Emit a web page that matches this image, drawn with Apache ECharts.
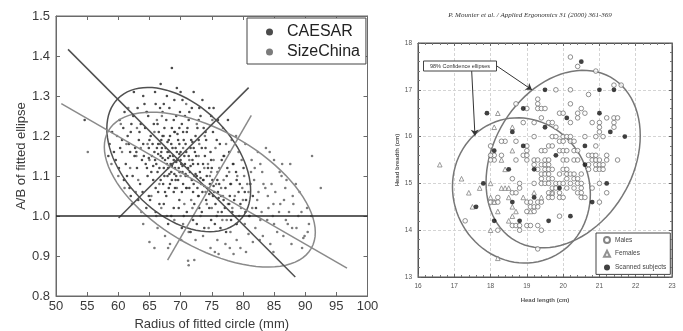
<!DOCTYPE html>
<html>
<head>
<meta charset="utf-8">
<script src="https://cdn.jsdelivr.net/npm/echarts@6/dist/echarts.min.js"></script>
<style>
  html, body { margin: 0; padding: 0; background: #fff; }
  #chart { width: 683px; height: 331px; }
</style>
</head>
<body>
<div id="chart"></div>
<script>
// ---- left panel: ellipse fit ratio vs circle radius ----
const caesarPoints = [
  [68.6,1.37],[54.6,1.24],
  [62.5,1.31],[65.9,1.31],[69.4,1.32],[72.1,1.31],[67.8,1.30],[64.2,1.28],[70.3,1.29],[73.5,1.29],
  [61.0,1.26],[63.1,1.27],[66.0,1.28],[68.2,1.27],[69.9,1.26],[71.8,1.27],[74.6,1.27],[75.3,1.27],
  [60.2,1.24],[62.4,1.25],[64.8,1.25],[67.1,1.26],[70.7,1.25],[72.9,1.24],[76.0,1.24],[65.7,1.23],[68.9,1.24],
  [59.0,1.21],[60.8,1.22],[62.0,1.21],[63.6,1.23],[64.3,1.22],[66.5,1.21],[67.4,1.22],[68.3,1.20],[69.8,1.22],
  [71.0,1.21],[72.4,1.20],[73.7,1.22],[75.2,1.21],[77.6,1.24],[61.5,1.20],[65.2,1.20],[70.2,1.23],[74.1,1.19],
  [58.6,1.18],[60.3,1.17],[61.7,1.18],[62.9,1.16],[64.0,1.18],[64.9,1.17],[65.8,1.16],[66.4,1.18],[67.0,1.17],
  [67.9,1.16],[68.5,1.18],[69.2,1.17],[70.0,1.16],[70.8,1.18],[71.6,1.17],[72.3,1.16],[73.4,1.17],[74.8,1.16],
  [76.3,1.18],[77.8,1.16],[63.3,1.19],[66.9,1.19],[69.6,1.19],
  [59.6,1.14],[61.2,1.13],[62.6,1.15],[63.8,1.14],[64.6,1.12],[65.4,1.15],[66.1,1.13],[66.8,1.15],[67.5,1.14],
  [68.0,1.12],[68.4,1.13],[68.8,1.15],[69.1,1.12],[69.5,1.14],[70.1,1.13],[70.6,1.15],[71.2,1.12],[71.9,1.14],
  [72.8,1.13],[73.9,1.15],[75.0,1.12],[76.6,1.14],[78.4,1.13],[80.1,1.12],[67.3,1.12],[69.9,1.11],
  [60.9,1.09],[62.3,1.10],[63.5,1.08],[64.7,1.10],[65.6,1.09],[66.3,1.11],[67.2,1.08],[67.9,1.10],[68.6,1.09],
  [69.3,1.10],[70.4,1.08],[71.1,1.10],[71.8,1.09],[72.6,1.10],[73.3,1.08],[74.2,1.10],[75.1,1.09],[76.2,1.08],
  [77.4,1.10],[79.0,1.09],[81.2,1.08],[68.1,1.07],
  [62.0,1.05],[63.9,1.06],[65.1,1.04],[66.4,1.06],[67.7,1.05],[68.9,1.06],[69.8,1.04],[70.9,1.07],[72.0,1.06],
  [72.7,1.07],[73.5,1.06],[74.3,1.07],[75.2,1.05],[76.0,1.06],[76.9,1.04],[77.9,1.05],[79.3,1.06],[80.5,1.04],
  [64.5,1.02],[66.0,1.01],[67.3,1.03],[68.5,1.00],[69.7,1.02],[71.0,1.01],[72.2,1.03],[73.4,1.01],[74.6,1.02],
  [75.8,1.00],[77.1,1.02],[78.3,1.01],[79.6,1.03],[81.0,1.00],
  [68.0,0.98],[70.2,0.97],[72.0,0.99],[73.8,0.97],[75.5,0.98],[77.3,0.96],[79.0,0.98],
  [64.1,1.15],[64.4,1.13],[65.0,1.19],[65.3,1.11],[65.9,1.14],[66.2,1.17],[66.6,1.12],[66.9,1.16],[67.1,1.20],
  [67.4,1.10],[67.6,1.17],[67.8,1.13],[68.1,1.19],[68.3,1.15],[68.5,1.11],[68.7,1.17],[68.9,1.14],[69.0,1.21],
  [69.2,1.09],[69.4,1.16],[69.7,1.12],[69.8,1.18],[70.0,1.14],[70.3,1.11],[70.5,1.19],[70.7,1.13],[70.9,1.16],
  [71.1,1.22],[71.3,1.15],[71.5,1.11],[71.7,1.19],[72.0,1.13],[72.1,1.17],[72.5,1.15],[72.9,1.19],[73.1,1.11],
  [73.6,1.13],[74.0,1.17],[74.4,1.12],[74.9,1.14],
  [66.0,1.07],[66.8,1.09],[67.5,1.06],[68.3,1.08],[69.1,1.07],[69.6,1.09],[70.2,1.06],[70.8,1.10],[71.4,1.07],
  [72.1,1.08],[72.9,1.05],[73.6,1.09],[74.1,1.04],[74.7,1.08],[75.4,1.06],[75.9,1.09],[76.5,1.05],[77.2,1.07],
  [78.0,1.08],[78.6,1.04],
  [63.0,1.12],[62.7,1.17],[61.9,1.16],[61.4,1.10],[63.4,1.21],[64.6,1.26],[66.7,1.27],[69.0,1.29],[71.4,1.26],
  [73.2,1.25],[74.0,1.21],[75.8,1.19],[76.9,1.15],[77.5,1.12],[78.9,1.11],[79.5,1.08],[80.3,1.06],[81.6,1.05],
  [82.1,1.02],[80.4,1.01],
  [62.1,1.23],[60.6,1.19],[59.3,1.16],[58.4,1.15],[60.1,1.12],[61.8,1.07],[63.2,1.04],[64.9,1.05],[66.6,1.03],
  [68.9,1.02],[70.5,1.00],[72.6,0.98],[74.9,0.99],[76.4,0.97],[78.1,0.99],[71.6,0.96],[73.0,1.02],[75.6,1.03],
  [77.8,1.03],[76.6,1.01],
  [65.5,1.18],[66.3,1.23],[67.7,1.24],[68.6,1.22],[70.4,1.21],[71.3,1.24],[72.7,1.22],[69.3,1.25],[67.3,1.28],
  [70.0,1.31],[64.0,1.30],[66.8,1.33],[73.0,1.27],[74.9,1.25],
  [68.0,1.145],[68.6,1.125],[69.3,1.135],[69.8,1.155],[70.3,1.125],[68.2,1.105],[69.0,1.105],[70.8,1.105],
  [71.6,1.125],[72.4,1.105],[73.2,1.095],[73.8,1.075],[74.6,1.055],[75.3,1.075],[76.1,1.045],[67.1,1.145],
  [66.4,1.155],[65.6,1.125],[64.9,1.145],[67.9,1.185],[69.5,1.205],[71.9,1.185]
];
const sizeChinaPoints = [
  [55.1,1.16],
  [61.6,1.27],[64.5,1.26],[67.0,1.25],[70.9,1.28],
  [59.8,1.20],[63.0,1.22],[66.2,1.24],[69.1,1.21],[72.6,1.23],[76.8,1.22],[78.9,1.20],
  [60.6,1.16],[63.6,1.17],[66.7,1.18],[70.4,1.17],[73.0,1.18],[75.6,1.17],[78.2,1.19],[80.4,1.18],[83.7,1.17],[84.3,1.16],
  [58.9,1.13],[61.9,1.12],[65.0,1.14],[68.7,1.13],[71.4,1.14],[74.4,1.13],[77.0,1.15],[79.8,1.14],[81.9,1.12],
  [82.8,1.13],[85.0,1.14],[87.6,1.13],[91.1,1.15],
  [60.0,1.10],[63.2,1.09],[66.6,1.08],[70.0,1.10],[73.7,1.09],[75.9,1.11],[78.1,1.08],[80.2,1.10],[81.8,1.09],
  [83.1,1.11],[84.6,1.08],[86.2,1.10],[87.0,1.09],[88.5,1.08],
  [62.8,1.06],[65.3,1.05],[69.4,1.07],[71.7,1.04],[74.0,1.06],[76.5,1.07],[78.7,1.05],[80.9,1.06],[82.3,1.04],
  [83.6,1.07],[85.2,1.06],[86.6,1.04],[88.0,1.05],[89.1,1.06],[92.5,1.07],
  [63.7,1.01],[66.9,1.02],[70.6,1.03],[73.2,1.00],[75.0,1.02],[77.6,1.03],[79.4,1.00],[81.5,1.02],[83.0,1.01],
  [84.8,1.00],[86.0,1.03],[87.4,1.01],[88.9,1.00],[90.3,1.02],
  [64.0,0.98],[66.3,0.97],[69.0,0.99],[71.3,0.96],[74.5,0.97],[76.7,0.99],[78.0,0.96],[80.3,0.98],[82.0,0.97],
  [83.9,0.99],[85.5,0.96],[87.2,0.98],[88.6,0.97],[89.9,0.95],[90.6,0.98],
  [65.0,0.935],[65.8,0.92],[67.5,0.95],[72.4,0.94],[74.8,0.92],[76.1,0.905],[77.2,0.93],[78.5,0.905],[79.6,0.92],
  [80.9,0.955],[82.7,0.94],[84.4,0.93],[86.5,0.95],[89.5,0.92],[89.7,0.945],
  [71.2,0.888],[71.3,0.877],[72.2,0.89],[75.5,0.91],[80.5,0.91],
  [72.9,1.15],[73.8,1.12],[74.7,1.10],[75.3,1.14],[76.2,1.12],[76.9,1.09],[77.8,1.11],[78.5,1.13],[79.1,1.10],
  [79.9,1.07],[80.7,1.08],[81.3,1.11],[82.5,1.06],[83.3,1.08],[84.0,1.05],[84.9,1.03],[85.8,1.01],[86.9,0.99],
  [87.9,0.97],[84.1,1.02],[82.8,0.99],[81.1,1.00],[79.7,1.02],[78.9,0.98],[77.4,0.99],[76.0,1.01],[74.2,1.03],
  [72.8,1.05],[71.0,1.07],[69.8,1.11],[68.2,1.16],[67.3,1.20],[65.8,1.21],[64.7,1.18],[62.9,1.15],[61.3,1.18],
  [60.4,1.23],[73.9,1.20],[75.1,1.24],[77.3,1.18],[79.3,1.16],[81.4,1.14],[82.4,1.16],[85.9,1.11],[86.8,1.07],
  [88.1,1.03],[89.4,1.01],[85.0,0.98],[83.2,0.95],[81.6,0.935],[79.0,0.94],[77.9,0.92],[75.9,0.94],[73.6,0.95],
  [70.1,0.94],[68.3,0.93],[68.0,0.92],[84.9,0.91],[87.8,0.93],[90.4,0.96],[91.0,1.00],[86.3,1.13],[80.0,1.04],
  [78.3,1.02],[76.8,1.05],[75.7,1.08],[74.9,1.11],[72.2,1.10],[71.9,1.02],[70.4,0.98],[67.8,1.00],[66.1,1.00],
  [62.2,1.03],[61.0,1.07]
];
// ellipse: [centerX, centerY, axis1X, axis1Y, axis2X, axis2Y]
const caesarEllipse = [69.7, 1.141, 9.76, -0.1525, 6.16, 0.0963];
const sizeChinaEllipse = [74.69, 1.066, 16.28, -0.147, 4.66, 0.126];
// principal axes, endpoints
const caesarMajor = [[51.93, 1.4165], [88.41, 0.8477]];
const caesarMinor = [[60.05, 0.995], [80.92, 1.321]];
const sizeChinaMajor = [[50.85, 1.281], [96.71, 0.8695]];
const sizeChinaMinor = [[67.91, 0.8896], [81.35, 1.2516]];
const refLine = [[50, 1.0], [100, 1.0]];

// ---- right panel: head length vs head breadth ----
const malesPoints = [
  [20.2,17.7],[20.4,17.5],[20.9,17.4],[21.4,17.1],[21.6,17.1],[19.8,17.0],[20.2,17.0],[20.7,16.9],
  [19.3,16.8],[19.3,16.7],[19.3,16.6],[19.4,16.6],[19.5,16.6],[18.7,16.7],[19.0,16.6],[20.2,16.7],[20.5,16.6],
  [19.9,16.5],[20.0,16.5],[20.4,16.5],[20.6,16.5],[21.2,16.4],[21.4,16.4],[21.5,16.4],[21.4,16.3],[21.4,16.2],
  [19.4,16.4],[19.6,16.3],[19.7,16.3],[19.2,16.3],[18.9,16.3],[19.8,16.2],[20.2,16.3],[20.4,16.4],
  [20.8,16.3],[21.0,16.3],[21.0,16.2],[21.0,16.1],
  [19.7,16.0],[19.8,16.0],[20.0,16.0],[20.1,16.0],[20.2,16.0],[20.6,16.0],[20.9,16.0],[21.1,16.0],[19.2,16.0],
  [18.4,15.9],[18.7,15.9],[18.3,15.9],[19.6,15.8],[19.7,15.8],[19.9,15.9],[20.0,15.9],[20.2,15.9],[20.3,15.9],
  [19.9,15.7],[20.0,15.7],[20.1,15.7],[20.3,15.7],[20.4,15.7],[20.9,15.8],[21.2,15.6],[20.7,15.6],[20.8,15.6],[20.9,15.6],
  [19.4,15.7],[19.5,15.7],[18.1,15.6],[18.1,15.5],[18.3,15.6],[18.9,15.6],[19.0,15.5],[18.0,15.6],[18.0,15.5],[18.0,15.8],
  [19.0,15.8],[19.0,15.7],[19.0,15.6],[18.7,15.5],[18.6,15.1],
  [19.2,15.5],[19.3,15.5],[19.5,15.5],[19.6,15.5],[20.0,15.5],[20.1,15.5],[20.3,15.5],[20.4,15.5],
  [20.8,15.5],[20.9,15.5],[21.0,15.5],[21.2,15.5],[21.5,15.5],
  [19.2,15.4],[19.4,15.4],[19.5,15.4],[19.6,15.4],[20.7,15.4],[20.9,15.4],[21.0,15.4],[21.1,15.4],
  [19.3,15.3],[19.5,15.3],[19.6,15.3],[19.7,15.3],[20.0,15.3],[20.1,15.3],[20.7,15.3],[20.9,15.3],[21.0,15.3],[21.1,15.3],
  [19.4,15.2],[19.5,15.2],[19.6,15.2],[19.9,15.2],[20.1,15.2],[20.2,15.2],[20.3,15.2],[20.5,15.2],
  [19.4,15.1],[19.6,15.1],[19.7,15.1],[20.1,15.1],[20.3,15.1],[20.4,15.1],
  [19.2,15.0],[19.4,15.0],[19.5,15.0],[19.6,15.0],[19.8,15.0],[19.9,15.0],[20.0,15.0],[20.2,15.0],[20.4,15.0],[20.5,15.0],[21.0,15.0],
  [19.7,14.9],[19.8,14.9],[20.1,14.9],[20.3,14.9],[20.5,14.9],[20.8,14.9],
  [19.6,14.8],[19.7,14.8],[19.9,14.8],[20.4,14.8],[20.5,14.8],[21.2,14.8],
  [19.6,14.7],[19.7,14.7],[19.9,14.7],[20.0,14.7],[20.5,14.7],[20.6,14.7],[21.0,14.6],
  [18.8,15.0],[18.8,14.9],[18.6,14.8],[18.7,14.8],
  [19.0,14.6],[19.1,14.6],[19.3,14.6],[19.4,14.6],[19.1,14.5],[19.2,14.5],[19.3,14.5],[19.0,14.4],[19.2,14.4],
  [18.6,14.1],[18.7,14.1],[18.8,14.1],[19.0,14.1],[19.1,14.1],[18.8,14.0],[19.3,14.1],[19.4,14.0],
  [19.3,13.6],[19.9,14.3],[18.2,14.0],[17.3,14.2],[18.0,14.6],[18.1,14.6],[18.2,14.6],[18.2,14.7]
];
const femalesPoints = [
  [16.6,15.4],[17.2,15.1],[17.4,14.8],[17.7,14.9],[17.5,14.5],[18.2,16.5],[18.1,16.2],
  [18.0,15.0],[18.0,14.7],[18.1,14.6],[18.2,14.4],[18.0,14.0],[18.2,13.4],
  [18.3,14.9],[18.4,14.9],[18.5,14.9],[18.4,15.3],[18.6,16.2],[18.6,15.7],[18.5,14.7],[18.6,14.5],
  [18.6,14.3],[18.7,14.4],[18.9,14.7],[19.1,14.4],[19.2,14.8],[19.4,14.7],[19.7,14.8],[18.3,15.5],[18.5,14.2]
];
const scannedPoints = [
  [20.5,17.6],[19.5,17.0],[21.0,17.0],[21.4,17.0],[17.9,16.5],[18.9,16.6],[20.1,16.4],[21.0,16.5],
  [19.5,16.2],[18.6,16.1],[21.3,16.1],[21.7,16.0],[18.1,15.7],[18.9,15.8],[20.6,15.8],[19.8,15.6],
  [19.2,15.3],[18.5,15.3],[20.6,15.4],[17.8,15.0],[21.2,15.0],[19.9,14.9],[17.6,14.5],[19.2,14.7],
  [18.6,14.6],[20.8,14.6],[18.1,14.2],[18.8,14.2],[19.6,14.2],[20.2,14.3]
];
const malesEllipse = [20.0, 15.52, 2.125, 0.5, 0, 1.83];
const femalesEllipse = [18.85, 14.85, 1.9, -0.08, 0, 1.55];

const leftTicksX = [50, 100, 5];
const leftTicksY = [0.8, 1.5, 0.1];
const rightTicksX = [16, 23, 1];
const rightTicksY = [13, 18, 1];

const chartDom = document.getElementById('chart');
const myChart = echarts.init(chartDom, null, { renderer: 'canvas' });

const colors = {
  caesar: '#1e1e1e',
  sizeChina: '#5a5a5a',
  caesarLine: '#505050',
  sizeChinaLine: '#8a8a8a',
  frame: '#6a6a6a',
  text: '#3a3a3a',
  rightText: '#555',
  rightGrid: '#d4d4d4'
};

function ellipseItem(params, api) {
  const pts = [];
  for (let k = 0; k <= 90; k++) {
    const t = k / 90 * Math.PI * 2;
    const c = Math.cos(t), s = Math.sin(t);
    pts.push(api.coord([
      api.value(0) + api.value(2) * c + api.value(4) * s,
      api.value(1) + api.value(3) * c + api.value(5) * s
    ]));
  }
  return {
    type: 'polyline',
    shape: { points: pts },
    style: { fill: 'none', stroke: api.visual('color'), lineWidth: 1.5 }
  };
}

function ellipseSeries(name, params, xi, color) {
  return {
    name, type: 'custom', xAxisIndex: xi, yAxisIndex: xi, silent: true,
    renderItem: ellipseItem, itemStyle: { color },
    encode: { x: 0, y: 1 }, data: [params], z: 3
  };
}

function axisLineSeries(name, pts, color, width) {
  return {
    name, type: 'line', xAxisIndex: 0, yAxisIndex: 0, data: pts, silent: true,
    showSymbol: false, symbol: 'none', lineStyle: { color, width }, z: 3
  };
}

const leftAxisCommon = {
  gridIndex: 0,
  type: 'value',
  axisLine: { show: true, lineStyle: { color: colors.frame } },
  axisTick: { show: true, inside: true, length: 4, lineStyle: { color: colors.frame } },
  splitLine: { show: false }
};
const rightAxisCommon = {
  gridIndex: 1,
  type: 'value',
  axisLine: { show: true, lineStyle: { color: '#555' } },
  axisTick: { show: true, inside: true, length: 3, lineStyle: { color: '#666' } },
  minorTick: { show: true, splitNumber: 5, length: 2, lineStyle: { color: '#777' } },
  splitLine: { show: false }
};

const option = {
  backgroundColor: '#fff',
  animation: false,
  textStyle: { fontFamily: 'Liberation Sans' },
  grid: [
    { left: 56, top: 16, width: 311.5, height: 280, outerBoundsMode: 'none', show: true, borderColor: colors.frame, borderWidth: 1, backgroundColor: 'transparent' },
    { left: 418, top: 43, width: 254, height: 234, outerBoundsMode: 'none', show: true, borderColor: '#555', borderWidth: 1, backgroundColor: 'transparent' }
  ],
  legend: [
    {
      data: ['CAESAR', 'SizeChina'],
      orient: 'vertical',
      left: 247, top: 18,
      padding: [6, 6, 4, 19],
      itemGap: 4,
      itemWidth: 7, itemHeight: 7,
      backgroundColor: '#fff',
      borderColor: '#444', borderWidth: 1,
      textStyle: { fontSize: 16, lineHeight: 16, color: '#222', fontFamily: 'Liberation Sans', padding: [0, 0, 0, 9] }
    },
    {
      data: ['Males', 'Females', 'Scanned subjects'],
      orient: 'vertical',
      left: 596, top: 233,
      padding: [3, 4, 3, 7],
      itemGap: 5.7,
      itemWidth: 6, itemHeight: 6,
      backgroundColor: '#fff',
      borderColor: '#444', borderWidth: 1,
      textStyle: { fontSize: 6.5, lineHeight: 8, color: '#444', fontFamily: 'Liberation Sans' }
    }
  ],
  xAxis: [
    Object.assign({}, leftAxisCommon, {
      min: leftTicksX[0], max: leftTicksX[1], interval: leftTicksX[2],
      axisLabel: { color: colors.text, fontSize: 13, margin: 4 },
      name: 'Radius of fitted circle (mm)',
      nameLocation: 'middle', nameGap: 20,
      nameTextStyle: { color: colors.text, fontSize: 13 }
    }),
    Object.assign({}, leftAxisCommon, {
      position: 'top',
      min: leftTicksX[0], max: leftTicksX[1], interval: leftTicksX[2],
      axisLabel: { show: false }
    }),
    Object.assign({}, rightAxisCommon, {
      min: rightTicksX[0], max: rightTicksX[1], interval: rightTicksX[2],
      axisLabel: { color: colors.rightText, fontSize: 6.5, margin: 6 },
      splitLine: { show: true, lineStyle: { color: colors.rightGrid, type: [3, 2] } },
      name: 'Head length (cm)',
      nameLocation: 'middle', nameGap: 20,
      nameTextStyle: { color: '#555', fontSize: 6, fontWeight: 'bold' }
    }),
    Object.assign({}, rightAxisCommon, {
      position: 'top',
      min: rightTicksX[0], max: rightTicksX[1], interval: rightTicksX[2],
      axisLabel: { show: false }
    })
  ],
  yAxis: [
    Object.assign({}, leftAxisCommon, {
      min: leftTicksY[0], max: leftTicksY[1], interval: leftTicksY[2],
      axisLabel: { color: colors.text, fontSize: 13, margin: 6, formatter: v => v.toFixed(1) },
      name: 'A/B of fitted ellipse',
      nameLocation: 'middle', nameGap: 27, nameRotate: 90,
      nameTextStyle: { color: colors.text, fontSize: 13 }
    }),
    Object.assign({}, leftAxisCommon, {
      position: 'right',
      min: leftTicksY[0], max: leftTicksY[1], interval: leftTicksY[2],
      axisLabel: { show: false }
    }),
    Object.assign({}, rightAxisCommon, {
      min: rightTicksY[0], max: rightTicksY[1], interval: rightTicksY[2],
      axisLabel: { color: colors.rightText, fontSize: 6.5, margin: 6 },
      splitLine: { show: true, lineStyle: { color: colors.rightGrid, type: [3, 2] } },
      name: 'Head breadth (cm)',
      nameLocation: 'middle', nameGap: 18, nameRotate: 90,
      nameTextStyle: { color: '#555', fontSize: 6, fontWeight: 'bold' }
    }),
    Object.assign({}, rightAxisCommon, {
      position: 'right',
      min: rightTicksY[0], max: rightTicksY[1], interval: rightTicksY[2],
      axisLabel: { show: false }
    })
  ],
  graphic: [
    {
      type: 'text',
      style: {
        x: 530, y: 15,
        text: 'P. Mounier et al. / Applied Ergonomics 31 (2000) 361-369',
        font: 'italic 7px "Liberation Serif"',
        fill: '#333', textAlign: 'center', textVerticalAlign: 'middle'
      }
    },
    {
      type: 'rect', z: 20,
      shape: { x: 423.5, y: 61, width: 73, height: 10 },
      style: { fill: '#fff', stroke: '#444', lineWidth: 1 }
    },
    {
      type: 'text', z: 21,
      style: {
        x: 460, y: 66, text: '98% Confidence ellipses',
        font: '5.5px "Liberation Sans"', fill: '#333',
        textAlign: 'center', textVerticalAlign: 'middle'
      }
    }
  ],
  series: [
    // left panel
    {
      name: 'SizeChina', type: 'scatter', xAxisIndex: 0, yAxisIndex: 0,
      data: sizeChinaPoints, symbol: 'circle', symbolSize: 2.6,
      itemStyle: { color: colors.sizeChina }, z: 2
    },
    {
      name: 'CAESAR', type: 'scatter', xAxisIndex: 0, yAxisIndex: 0,
      data: caesarPoints, symbol: 'circle', symbolSize: 2.6,
      itemStyle: { color: colors.caesar }, z: 2
    },
    ellipseSeries('CAESAR ellipse', caesarEllipse, 0, colors.caesarLine),
    ellipseSeries('SizeChina ellipse', sizeChinaEllipse, 0, colors.sizeChinaLine),
    axisLineSeries('CAESAR major', caesarMajor, colors.caesarLine, 1.5),
    axisLineSeries('CAESAR minor', caesarMinor, colors.caesarLine, 1.5),
    axisLineSeries('SizeChina major', sizeChinaMajor, colors.sizeChinaLine, 1.5),
    axisLineSeries('SizeChina minor', sizeChinaMinor, colors.sizeChinaLine, 1.5),
    axisLineSeries('A/B = 1', refLine, '#2a2a2a', 1.5),
    // right panel
    ellipseSeries('Males ellipse', malesEllipse, 2, '#777'),
    ellipseSeries('Females ellipse', femalesEllipse, 2, '#777'),
    {
      name: 'Males', type: 'scatter', xAxisIndex: 2, yAxisIndex: 2,
      data: malesPoints, symbol: 'circle', symbolSize: 4.6,
      itemStyle: { color: '#fff', borderColor: '#666', borderWidth: 0.9 }, z: 4,
      markLine: {
        silent: true, symbol: ['none', 'arrow'], symbolSize: 6,
        label: { show: false },
        lineStyle: { color: '#333', width: 1, type: 'solid' },
        data: [
          [{ coord: [18.17, 17.51] }, { coord: [19.14, 17.0] }],
          [{ coord: [17.48, 17.40] }, { coord: [17.57, 16.02] }]
        ]
      }
    },
    {
      name: 'Females', type: 'scatter', xAxisIndex: 2, yAxisIndex: 2,
      data: femalesPoints, symbol: 'triangle', symbolSize: 4.6,
      itemStyle: { color: '#fff', borderColor: '#777', borderWidth: 0.9 }, z: 4
    },
    {
      name: 'Scanned subjects', type: 'scatter', xAxisIndex: 2, yAxisIndex: 2,
      data: scannedPoints, symbol: 'circle', symbolSize: 4.8,
      itemStyle: { color: '#111' }, z: 5
    }
  ]
};

myChart.setOption(option);
window.addEventListener('resize', () => myChart.resize());
</script>
</body>
</html>
